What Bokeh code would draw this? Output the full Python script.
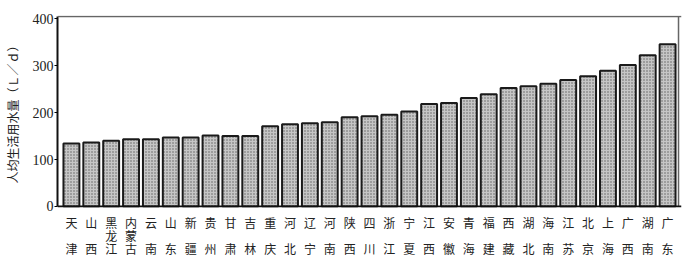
from bokeh.plotting import figure
from bokeh.layouts import column
from bokeh.models import Range1d, FactorRange, ColumnDataSource, Span
from bokeh.core.properties import value
from bokeh.embed import file_html
from bokeh.resources import INLINE

provinces = ["天津", "山西", "黑龙江", "内蒙古", "云南", "山东", "新疆", "贵州", "甘肃", "吉林",
             "重庆", "河北", "辽宁", "河南", "陕西", "四川", "浙江", "宁夏", "江西", "安徽",
             "青海", "福建", "西藏", "湖北", "海南", "江苏", "北京", "上海", "广西", "湖南", "广东"]
water_use = [134, 136, 140, 143, 143, 147, 147, 151, 150, 150,
             171, 175, 177, 179, 190, 192, 195, 202, 218, 220,
             231, 239, 252, 256, 261, 269, 277, 289, 301, 322, 345]
y_ticks = [0, 100, 200, 300, 400]
y_label = "人均生活用水量（Ｌ／ｄ）"

src = ColumnDataSource(dict(x=provinces, y=water_use))
xr = FactorRange(*provinces, range_padding=0.2, range_padding_units="absolute")

u = 400 / 187.5  # data units per pixel
p = figure(width=688, height=213, output_backend="svg", toolbar_location=None,
           x_range=xr, y_range=Range1d(-1 * u, 400 + 3 * u), x_axis_location=None,
           min_border_left=57, min_border_right=7, min_border_top=15, min_border_bottom=6)

p.vbar(x="x", top="y", width=0.8, source=src, fill_color="#c6c6c6",
       hatch_pattern="dot", hatch_scale=3, hatch_color="#5e5e5e", hatch_weight=1,
       line_color="#1a1a1a", line_width=2)

p.grid.visible = False
p.outline_line_color = None
p.background_fill_color = "white"
p.border_fill_color = "white"

# frame: grey top and right edges, black base line
p.add_layout(Span(location=y_ticks[-1] + 2 * u, dimension="width", line_color="#666666", line_width=1.5))
p.segment(x0=[(provinces[-1], 0.55)], y0=[y_ticks[0]], x1=[(provinces[-1], 0.55)],
          y1=[y_ticks[-1] + 2 * u], line_color="#666666", line_width=1.5)
p.add_layout(Span(location=y_ticks[0], dimension="width", line_color="#111111", line_width=2))

ya = p.yaxis[0]
ya.ticker = y_ticks
ya.bounds = (y_ticks[0], y_ticks[-1] + 2 * u)
ya.axis_line_color = "#111111"
ya.axis_line_width = 2
ya.major_tick_out = 3
ya.major_tick_in = 0
ya.minor_tick_line_color = None
ya.major_label_standoff = 1
ya.major_label_text_font = "Liberation Serif"
ya.major_label_text_font_size = "14px"
ya.major_label_text_color = "#222222"
ya.axis_label = y_label
ya.axis_label_text_font = "Noto Sans CJK SC"
ya.axis_label_text_font_size = "12px"
ya.axis_label_text_font_style = "normal"
ya.axis_label_text_color = "#222222"
ya.axis_label_standoff = 9

# category labels: characters stacked vertically under each bar
p2 = figure(width=688, height=63, output_backend="svg", toolbar_location=None,
            x_range=xr, y_range=Range1d(-63, 0), x_axis_location=None, y_axis_location=None,
            min_border_left=57, min_border_right=7, min_border_top=0, min_border_bottom=0)
p2.grid.visible = False
p2.outline_line_color = None
p2.background_fill_color = "white"
p2.border_fill_color = "white"

row_y = [-9, -22, -35]
lx, ly, lt = [], [], []
for name in provinces:
    slots = [0, 2] if len(name) == 2 else [0, 1, 2]
    for ch, r in zip(name, slots):
        lx.append(name)
        ly.append(row_y[r])
        lt.append(ch)
p2.text(x="x", y="y", text="t", source=ColumnDataSource(dict(x=lx, y=ly, t=lt)),
        text_font=value("Noto Sans CJK SC"), text_font_size="12px", text_color="#222222",
        text_align="center", text_baseline="middle")

layout = column(p, p2, spacing=0)
open("out.html", "w").write(file_html(layout, INLINE))
